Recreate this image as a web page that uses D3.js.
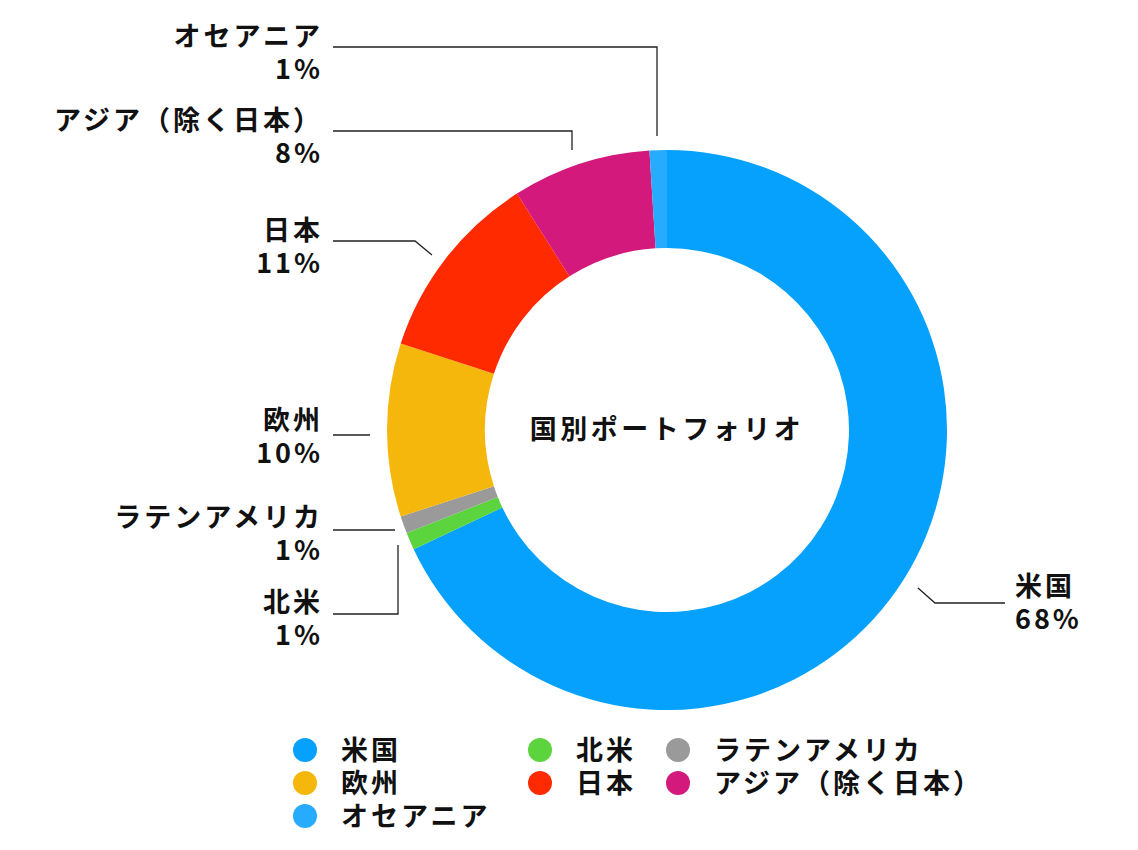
<!DOCTYPE html>
<html><head><meta charset="utf-8">
<script src="https://cdn.jsdelivr.net/npm/d3@7"></script>
<style>body{margin:0;background:#fff}text{font-family:"Noto Sans CJK JP",sans-serif;font-weight:700;fill:#111;letter-spacing:3px}</style>
</head><body><svg id="c" width="1138" height="850"></svg>
<script>
const categories=["米国","北米","ラテンアメリカ","欧州","日本","アジア（除く日本）","オセアニア"];
const values=[68,1,1,10,11,8,1];
const colors=["#06a0fd","#5bd43e","#9a9a9a","#f5b70b","#ff2a00","#d3197b","#27abfd"];
const layout=[
 {x:1015,a:"start",y:596,pts:[[935,603],[1005,603]]},
 {x:323,a:"end",y:612,pts:[[398,545],[398,614],[333,614]]},
 {x:323,a:"end",y:527,pts:[[333,530]]},
 {x:323,a:"end",y:430,pts:[[333,435]]},
 {x:323,a:"end",y:240,pts:[[415,241],[333,241]]},
 {x:323,a:"end",y:130,pts:[[572,131],[333,131]]},
 {x:323,a:"end",y:46,pts:[[657,47],[333,47]]}
];
const svg=d3.select("#c"),cx=667,cy=430,R=280,r=182;
const g=svg.append("g").attr("transform",`translate(${cx},${cy})`);
const pie=d3.pie().sort(null).value(d=>d)(values);
g.selectAll("path").data(pie).join("path").attr("d",d3.arc().innerRadius(r).outerRadius(R)).attr("fill",(d,i)=>colors[i]);
g.append("text").attr("text-anchor","middle").attr("dy","0.35em").style("font-size","27px").style("letter-spacing","3.5px").text("国別ポートフォリオ");
pie.forEach((d,i)=>{
  const L=layout[i];
  const starts=[[918,588],[398,545],[395,530],[370,435],[432,255],[572,150],[657,136]];
  const pts=[starts[i],...L.pts];
  svg.append("polyline").attr("points",pts.map(p=>p.join(",")).join(" ")).attr("fill","none").attr("stroke","#222").attr("stroke-width",1.3);
  svg.append("text").attr("x",L.x).attr("y",L.y).attr("text-anchor",L.a).style("font-size","27px").text(categories[i]);
  svg.append("text").attr("x",L.x).attr("y",L.y+33).attr("text-anchor",L.a).style("font-size","27px").text(values[i]+"%");
});
const leg=[[305,750],[540,750],[678,750],[305,783],[540,783],[678,783],[305,816]];
categories.forEach((c,i)=>{
  svg.append("circle").attr("cx",leg[i][0]).attr("cy",leg[i][1]).attr("r",12).attr("fill",colors[i]);
  svg.append("text").attr("x",leg[i][0]+36).attr("y",leg[i][1]+10).style("font-size","27px").text(c);
});
</script></body></html>
